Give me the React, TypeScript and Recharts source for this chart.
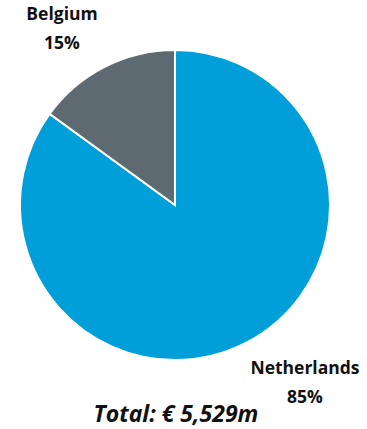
import React from "react";
import { PieChart, Pie, Cell } from "recharts";

const countries = ["Netherlands", "Belgium"];
const shares = [85, 15];
const colors = ["#009FDA", "#5E6A71"];
const totalLabel = "Total: € 5,529m";

const data = countries.map((name, i) => ({ name, value: shares[i] }));

const labelPos = [
  { dx: 130, dy: 169 },
  { dx: -113, dy: -185 },
];

const FONT = "'Open Sans', Lato, sans-serif";

const renderLabel = (props: any) => {
  const { cx, cy, index, name, value } = props;
  const p = labelPos[index];
  const x = cx + p.dx;
  const y = cy + p.dy;
  return (
    <text x={x} y={y} textAnchor="middle" fontFamily={FONT} fontWeight={700} fontSize={17.5} fill="#111">
      <tspan x={x} dy={0}>{name}</tspan>
      <tspan x={x} dy={29}>{`${value}%`}</tspan>
    </text>
  );
};

export default function App() {
  return (
    <div style={{ position: "absolute", left: 0, top: 0, width: 367, height: 429, background: "#fff" }}>
      <PieChart width={367} height={429} margin={{ top: 0, right: 0, bottom: 0, left: 0 }}>
        <Pie
          data={data}
          dataKey="value"
          nameKey="name"
          cx={175}
          cy={205}
          outerRadius={155}
          startAngle={90}
          endAngle={-270}
          stroke="#fff"
          strokeWidth={2}
          label={renderLabel}
          labelLine={false}
          isAnimationActive={false}
        >
          {data.map((d, i) => (
            <Cell key={d.name} fill={colors[i]} />
          ))}
        </Pie>
        <text x={176} y={422} textAnchor="middle" fontFamily={FONT} fontWeight={700} fontStyle="italic" fontSize={23} fill="#111">
          {totalLabel}
        </text>
      </PieChart>
    </div>
  );
}
